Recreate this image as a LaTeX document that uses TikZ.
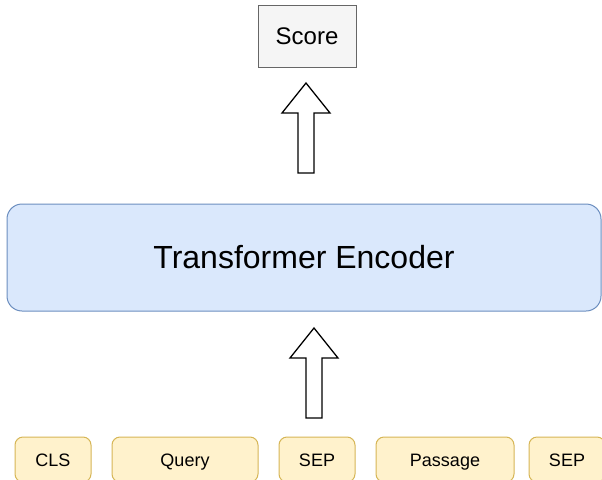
\documentclass[tikz,border=0pt]{standalone}
\usepackage{fontspec}
\setmainfont{Liberation Sans}
\usetikzlibrary{positioning,calc}
\definecolor{encfill}{HTML}{DAE8FC}
\definecolor{encline}{HTML}{6C8EBF}
\definecolor{tokfill}{HTML}{FFF2CC}
\definecolor{tokline}{HTML}{D6B656}
\definecolor{scorefill}{HTML}{F5F5F5}
\definecolor{scoreline}{HTML}{666666}
% hollow upward block arrow between two points
\newcommand{\blockup}[2]{%
  \path[blockarrow] let \p1=(#1), \p2=(#2) in
    (\x1-8pt,\y1) -- (\x1-8pt,\y2-30pt) -- (\x1-24pt,\y2-30pt) -- (\x1,\y2)
    -- (\x1+24pt,\y2-30pt) -- (\x1+8pt,\y2-30pt) -- (\x1+8pt,\y1) -- cycle;}

\begin{document}
\begin{tikzpicture}[x=1pt,y=-1pt,node distance=21pt,inner sep=0pt,outer sep=0pt]
\tikzstyle{box}=[draw,line width=1pt,align=center]
\tikzstyle{token}=[box,rounded corners=8pt,fill=tokfill,draw=tokline,minimum height=45pt,text height=13pt,text depth=0pt,font=\fontsize{18}{20}\selectfont]
\tikzstyle{blockarrow}=[draw=black,line width=1.3pt,fill=white,line join=miter]
\clip (0,0) rectangle (602,479);
\node[box,fill=scorefill,draw=scoreline,minimum width=98pt,minimum height=62pt,font=\fontsize{24}{28}\selectfont] (score) at (307,36) {Score};
\node[box,rounded corners=15pt,fill=encfill,draw=encline,minimum width=594pt,minimum height=107pt,font=\fontsize{32}{36}\selectfont] (enc) at (304,257.5) {Transformer Encoder};
\node[token,minimum width=76pt] (cls) at (53,459.5) {CLS};
\node[token,minimum width=146pt,right=of cls] (query) {Query};
\node[token,minimum width=76pt,right=of query] (sep1) {SEP};
\node[token,minimum width=138pt,right=of sep1] (passage) {Passage};
\node[token,minimum width=76pt,right=15pt of passage] (sep2) {SEP};
\coordinate (up1a) at ($(enc.north)+(2,-31)$);
\coordinate (up1b) at ($(score.south)+(-1,16)$);
\coordinate (up2a) at ($(sep1.north)+(-3,-19)$);
\coordinate (up2b) at ($(enc.south)+(10,17)$);
\blockup{up1a}{up1b}
\blockup{up2a}{up2b}
\end{tikzpicture}
\end{document}
